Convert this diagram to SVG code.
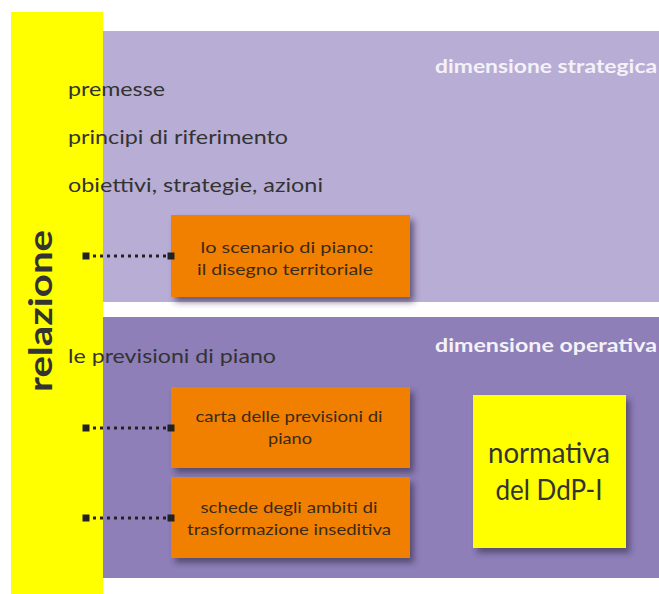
<svg xmlns="http://www.w3.org/2000/svg" width="659" height="594" viewBox="0 0 659 594">
<defs>
<style>
.t{font-family:Lato,"Open Sans","DejaVu Sans",sans-serif;fill:#333333;}
.ob{fill:#f28000;filter:url(#sh);}
.ot{font-family:Lato,"Open Sans","DejaVu Sans",sans-serif;font-size:16px;fill:#3a2a1a;text-anchor:middle;}
.dim{font-family:Lato,"Open Sans","DejaVu Sans",sans-serif;font-size:19px;font-weight:bold;fill:#f4f1f8;}
.con{stroke:#222222;stroke-width:3;stroke-dasharray:3 4;fill:none;marker-start:url(#sq);marker-end:url(#sq);}
</style>
<filter id="sh" x="-10%" y="-10%" width="130%" height="140%">
<feDropShadow dx="4" dy="5" stdDeviation="3" flood-color="#3a3050" flood-opacity="0.65"/>
</filter>
<marker id="sq" markerUnits="userSpaceOnUse" markerWidth="8" markerHeight="8" refX="4" refY="4" orient="auto">
<rect x="0.5" y="0.5" width="7" height="7" fill="#222222"/>
</marker>
</defs>
<rect width="659" height="594" fill="#ffffff"/>
<g id="yellow-bar">
<rect x="11" y="12" width="92" height="582" fill="#ffff00"/>
</g>
<g id="strategica">
<rect x="103" y="31" width="556" height="271" fill="#b8add5"/>
<text class="dim" x="435" y="73" textLength="222" lengthAdjust="spacingAndGlyphs">dimensione strategica</text>
</g>
<g id="operativa">
<rect x="103" y="317" width="556" height="261" fill="#8e7fb8"/>
<text class="dim" x="435" y="352" textLength="222" lengthAdjust="spacingAndGlyphs">dimensione operativa</text>
</g>
<g id="relazione">
<text class="t" transform="translate(52,311) rotate(-90)" x="0" y="0" text-anchor="middle" font-size="32" font-weight="bold" fill="#222222" textLength="162" lengthAdjust="spacingAndGlyphs">relazione</text>
</g>
<g id="labels">
<text class="t" x="68" y="96" font-size="20" textLength="97" lengthAdjust="spacingAndGlyphs">premesse</text>
<text class="t" x="68" y="144" font-size="20" textLength="220" lengthAdjust="spacingAndGlyphs">principi di riferimento</text>
<text class="t" x="68" y="192" font-size="20" textLength="255" lengthAdjust="spacingAndGlyphs">obiettivi, strategie, azioni</text>
<text class="t" x="68" y="363" font-size="20" textLength="208" lengthAdjust="spacingAndGlyphs">le previsioni di piano</text>
</g>
<g id="scenario">
<rect class="ob" x="171" y="215" width="239" height="82"/>
<text class="ot" x="287" y="253" textLength="173" lengthAdjust="spacingAndGlyphs">lo scenario di piano:</text>
<text class="ot" x="285" y="275" textLength="176" lengthAdjust="spacingAndGlyphs">il disegno territoriale</text>
</g>
<g id="carta">
<rect class="ob" x="171" y="387" width="239" height="81"/>
<text class="ot" x="289" y="422" textLength="187" lengthAdjust="spacingAndGlyphs">carta delle previsioni di</text>
<text class="ot" x="290" y="444" textLength="44" lengthAdjust="spacingAndGlyphs">piano</text>
</g>
<g id="schede">
<rect class="ob" x="171" y="477" width="239" height="81"/>
<text class="ot" x="289" y="513" textLength="177" lengthAdjust="spacingAndGlyphs">schede degli ambiti di</text>
<text class="ot" x="289" y="535" textLength="204" lengthAdjust="spacingAndGlyphs">trasformazione inseditiva</text>
</g>
<g id="normativa">
<rect x="473" y="395" width="153" height="153" fill="#ffff00" filter="url(#sh)"/>
<text class="t" x="549" y="463" font-size="29" text-anchor="middle" fill="#222222" textLength="122" lengthAdjust="spacingAndGlyphs">normativa</text>
<text class="t" x="549" y="500" font-size="29" text-anchor="middle" fill="#222222" textLength="107" lengthAdjust="spacingAndGlyphs">del DdP-I</text>
</g>
<g id="connectors">
<line class="con" x1="86" y1="256" x2="171" y2="256"/>
<line class="con" x1="86" y1="428" x2="171" y2="428"/>
<line class="con" x1="86" y1="518" x2="171" y2="518"/>
</g>
</svg>
